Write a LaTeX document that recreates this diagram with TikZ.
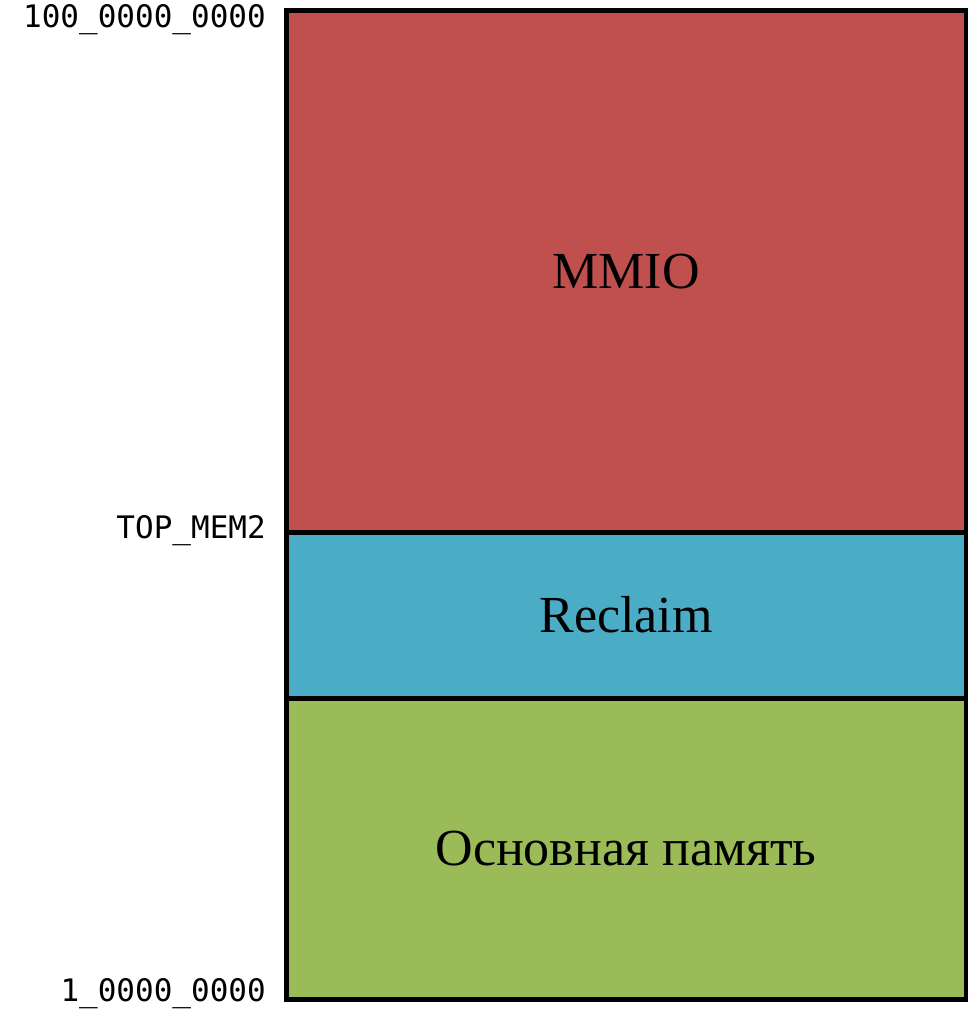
\documentclass[tikz,border=0pt]{standalone}
\usepackage{fontspec}
\setmainfont{Liberation Serif}
\newfontfamily\addrfont{DejaVu Sans Mono}
\usepackage{tikz}
\definecolor{mmiored}{HTML}{C0504D}
\definecolor{reclaimblue}{HTML}{4BACC6}
\definecolor{ramgreen}{HTML}{9BBB59}
\tikzset{
  region/.style={draw=black,line width=5pt,minimum width=680pt,inner sep=0pt,outer sep=0pt,font=\fontsize{52}{60}\selectfont},
  addr/.style={anchor=base east,inner sep=0pt,font=\addrfont\fontsize{31}{36}\selectfont}
}

\begin{document}
\begin{tikzpicture}[x=1pt,y=-1pt]
\useasboundingbox (0,0) rectangle (968,1011);

\node[region,fill=mmiored,minimum height=521pt] (mmio) at (626,271.5) {MMIO};
\node[region,fill=reclaimblue,minimum height=166pt] (reclaim) at (626,615) {Reclaim};
\node[region,fill=ramgreen,minimum height=301pt] (ram) at (626,848.5) {Основная память};

\node[addr] (top) at (266,28) {100\_0000\_0000};
\node[addr] (topmem) at (266,538) {TOP\_MEM2};
\node[addr] (bottom) at (266,1001) {1\_0000\_0000};

\end{tikzpicture}
\end{document}
